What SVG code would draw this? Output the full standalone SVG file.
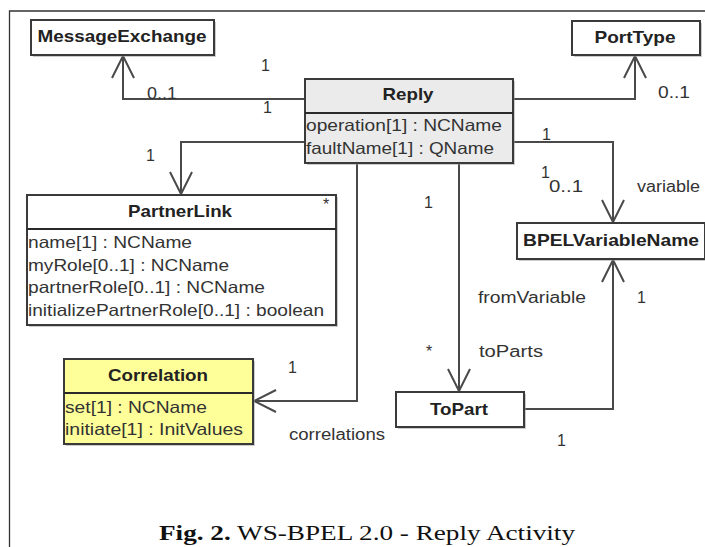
<svg xmlns="http://www.w3.org/2000/svg" width="705" height="547" viewBox="0 0 705 547">
<style>
  .box { fill: #ffffff; stroke: #3a3a3a; stroke-width: 2; }
  .grey { fill: #ebebeb; }
  .yellow { fill: #ffff99; }
  .shadow { fill: #9a9a9a; stroke: none; opacity: 0.5; }
  .div { stroke: #2a2a2a; stroke-width: 2; }
  .title { font-family: "Liberation Sans", Arial, sans-serif; font-weight: bold; font-size: 17px; fill: #222; text-anchor: middle; }
  .attr { font-family: "Liberation Sans", Arial, sans-serif; font-size: 16.5px; fill: #333; }
  .lbl { font-family: "Liberation Sans", Arial, sans-serif; font-size: 16px; fill: #333; }
  .conn { fill: none; stroke: #4a4a4a; stroke-width: 2; marker-end: url(#open); }
  .frame { stroke: #333; stroke-width: 1.3; fill: none; }
  .cap { font-family: "Liberation Serif", "Times New Roman", serif; font-size: 20px; fill: #111; }
</style>
<defs>
  <marker id="open" markerUnits="userSpaceOnUse" markerWidth="40" markerHeight="40" refX="0" refY="0" viewBox="-30 -20 40 40" orient="auto" overflow="visible">
    <path d="M -22 -11 L 0 0 L -22 11" fill="none" stroke="#4a4a4a" stroke-width="2"/>
  </marker>
</defs>
<rect x="0" y="0" width="705" height="547" fill="#ffffff"/>
<path class="frame" d="M 705 11 H 9.5 V 547"/>

<g id="connectors">
  <path class="conn" d="M 305 99 H 123 V 56"/>
  <path class="conn" d="M 513 99 H 635 V 56"/>
  <path class="conn" d="M 513 142 H 613 V 222"/>
  <path class="conn" d="M 305 142 H 181 V 194"/>
  <path class="conn" d="M 357 163 V 401 H 254"/>
  <path class="conn" d="M 459 163 V 391"/>
  <path class="conn" d="M 524 409 H 613 V 260"/>
  <text class="lbl" x="261" y="71">1</text>
  <text class="lbl" x="147" y="99" textLength="30" lengthAdjust="spacingAndGlyphs">0..1</text>
  <text class="lbl" x="263" y="113">1</text>
  <text class="lbl" x="658" y="98" textLength="32" lengthAdjust="spacingAndGlyphs">0..1</text>
  <text class="lbl" x="542" y="140">1</text>
  <text class="lbl" x="541" y="178">1</text>
  <text class="lbl" x="549" y="192" textLength="34" lengthAdjust="spacingAndGlyphs">0..1</text>
  <text class="lbl" x="637" y="192" textLength="63" lengthAdjust="spacingAndGlyphs">variable</text>
  <text class="lbl" x="146" y="161">1</text>
  <text class="lbl" x="424" y="208">1</text>
  <text class="lbl" x="478" y="303" textLength="108" lengthAdjust="spacingAndGlyphs">fromVariable</text>
  <text class="lbl" x="637" y="303">1</text>
  <text class="lbl" x="426" y="357">*</text>
  <text class="lbl" x="479" y="357" textLength="64" lengthAdjust="spacingAndGlyphs">toParts</text>
  <text class="lbl" x="288" y="373">1</text>
  <text class="lbl" x="289" y="440" textLength="96" lengthAdjust="spacingAndGlyphs">correlations</text>
  <text class="lbl" x="557" y="446">1</text>
</g>

<g id="MessageExchange">
  <rect class="shadow" x="33" y="22" width="183" height="35"/>
  <rect class="box" x="31" y="20" width="183" height="35"/>
  <text class="title" x="122" y="42" textLength="169" lengthAdjust="spacingAndGlyphs">MessageExchange</text>
</g>

<g id="PortType">
  <rect class="shadow" x="574" y="23" width="128" height="34"/>
  <rect class="box" x="572" y="21" width="128" height="34"/>
  <text class="title" x="635" y="43" textLength="81" lengthAdjust="spacingAndGlyphs">PortType</text>
</g>

<g id="Reply">
  <rect class="shadow" x="307" y="81" width="208" height="84"/>
  <rect class="box grey" x="305" y="79" width="208" height="84"/>
  <line class="div" x1="305" y1="113" x2="513" y2="113"/>
  <text class="title" x="408" y="100" textLength="51" lengthAdjust="spacingAndGlyphs">Reply</text>
  <text class="attr" x="306" y="131" textLength="196" lengthAdjust="spacingAndGlyphs">operation[1] : NCName</text>
  <text class="attr" x="306" y="154" textLength="188" lengthAdjust="spacingAndGlyphs">faultName[1] : QName</text>
</g>

<g id="PartnerLink">
  <rect class="shadow" x="29" y="197" width="309" height="130"/>
  <rect class="box" x="27" y="195" width="309" height="130"/>
  <line class="div" x1="27" y1="229" x2="336" y2="229"/>
  <text class="title" x="180" y="217" textLength="104" lengthAdjust="spacingAndGlyphs">PartnerLink</text>
  <text class="lbl" x="323" y="210" font-size="13">*</text>
  <text class="attr" x="28" y="248" textLength="164" lengthAdjust="spacingAndGlyphs">name[1] : NCName</text>
  <text class="attr" x="28" y="270.5" textLength="201" lengthAdjust="spacingAndGlyphs">myRole[0..1] : NCName</text>
  <text class="attr" x="28" y="293" textLength="237" lengthAdjust="spacingAndGlyphs">partnerRole[0..1] : NCName</text>
  <text class="attr" x="28" y="315.5" textLength="296" lengthAdjust="spacingAndGlyphs">initializePartnerRole[0..1] : boolean</text>
</g>

<g id="Correlation">
  <rect class="shadow" x="66" y="361" width="189" height="85"/>
  <rect class="box yellow" x="64" y="359" width="189" height="85"/>
  <line class="div" x1="64" y1="393" x2="253" y2="393"/>
  <text class="title" x="158" y="381" textLength="100" lengthAdjust="spacingAndGlyphs">Correlation</text>
  <text class="attr" x="65" y="413" textLength="142" lengthAdjust="spacingAndGlyphs">set[1] : NCName</text>
  <text class="attr" x="65" y="435" textLength="178" lengthAdjust="spacingAndGlyphs">initiate[1] : InitValues</text>
</g>

<g id="ToPart">
  <rect class="shadow" x="398" y="394" width="128" height="35"/>
  <rect class="box" x="396" y="392" width="128" height="35"/>
  <text class="title" x="459" y="415" textLength="58" lengthAdjust="spacingAndGlyphs">ToPart</text>
</g>

<g id="BPELVariableName">
  <rect class="shadow" x="519" y="225" width="188" height="36"/>
  <rect class="box" x="517" y="223" width="188" height="36"/>
  <text class="title" x="611" y="246" textLength="176" lengthAdjust="spacingAndGlyphs">BPELVariableName</text>
</g>

<text class="cap" x="159" y="540" textLength="416" lengthAdjust="spacingAndGlyphs"><tspan font-weight="bold">Fig. 2.</tspan> WS-BPEL 2.0 - Reply Activity</text>
</svg>
